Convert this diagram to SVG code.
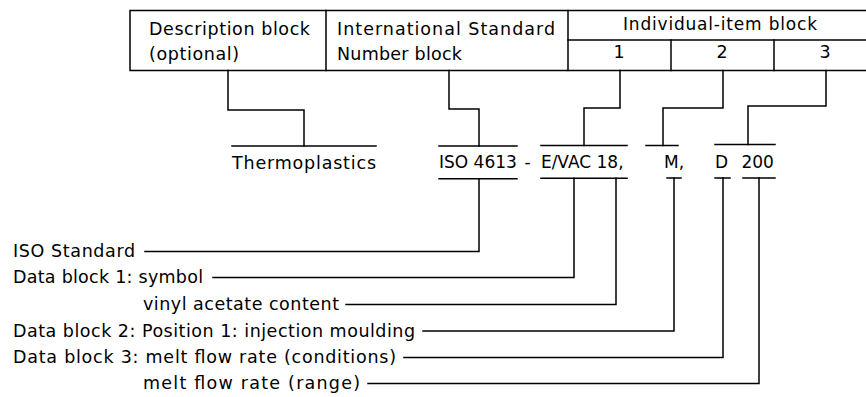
<svg xmlns="http://www.w3.org/2000/svg" width="866" height="397" viewBox="0 0 866 397">
<style>
text{font-family:"DejaVu Sans","Liberation Sans",sans-serif;font-size:17.5px;fill:#000}
.mid{font-size:17px}
.ln{fill:none;stroke:#000;stroke-width:1.5;stroke-linecap:square}
.c{text-anchor:middle}
</style>
<rect width="866" height="397" fill="#fff"/>
<g id="table">
  <g id="desc-block">
    <path class="ln" d="M130,10.5H326V70.5H130Z"/>
    <text x="149" y="35" textLength="161">Description block</text>
    <text x="149" y="60" textLength="90">(optional)</text>
  </g>
  <g id="isn-block">
    <path class="ln" d="M326,10.5H568V70.5H326"/>
    <text x="337" y="35" textLength="218">International Standard</text>
    <text x="337" y="60" textLength="125">Number block</text>
  </g>
  <g id="item-block">
    <path class="ln" d="M568,10.5H866M568,40H866M568,70.5H866"/>
    <text x="623" y="29.5" textLength="194" style="font-size:17px">Individual-item block</text>
  </g>
  <g id="item-1">
    <path class="ln" d="M671,40V70.5"/>
    <text class="c" x="619" y="57.5">1</text>
  </g>
  <g id="item-2">
    <path class="ln" d="M774,40V70.5"/>
    <text class="c" x="722" y="57.5">2</text>
  </g>
  <g id="item-3">
    <text class="c" x="825" y="57.5">3</text>
  </g>
</g>
<g id="designation">
  <g id="thermo">
    <path class="ln" d="M232,146H376"/>
    <text x="232" y="168.5" textLength="144">Thermoplastics</text>
  </g>
  <g id="iso-evac">
    <path class="ln" d="M439,146H517M439,178.7H517M541,145.5H627M541,178.3H627"/>
    <text class="mid" y="167.5"><tspan x="439">ISO 4613</tspan><tspan x="519"> -</tspan><tspan x="535.5"> E/VAC 18,</tspan></text>
  </g>
  <g id="m">
    <path class="ln" d="M646,145.5H678M667,178H681"/>
    <text class="mid" x="664" y="167.5">M,</text>
  </g>
  <g id="d200">
    <path class="ln" d="M715,144.5H775M715,178H730M743,178H775"/>
    <text class="mid" y="167.5"><tspan x="715">D</tspan><tspan x="736"> 200</tspan></text>
  </g>
</g>
<g id="labels">
  <text id="l1" x="13" y="257" textLength="122">ISO Standard</text>
  <text id="l2" x="13" y="283" textLength="190">Data block 1: symbol</text>
  <text id="l3" x="143" y="310" textLength="196">vinyl acetate content</text>
  <text id="l4" x="13" y="336.5" textLength="402">Data block 2: Position 1: injection moulding</text>
  <text id="l5" x="13" y="363" textLength="383">Data block 3: melt flow rate (conditions)</text>
  <text id="l6" x="143" y="389" textLength="217">melt flow rate (range)</text>
</g>
<g id="connectors" class="ln">
  <path class="ln" d="M228,70.5V110H304V146"/>
  <path class="ln" d="M449,70.5V109H479V146"/>
  <path class="ln" d="M620,70.5V108H584V145.5"/>
  <path class="ln" d="M723,70.5V108H663V145.5"/>
  <path class="ln" d="M826,70.5V106H748V144.5"/>
  <path class="ln" d="M479,178.7V251.5H145"/>
  <path class="ln" d="M574,178.3V277.5H213"/>
  <path class="ln" d="M616,178.3V304.5H346"/>
  <path class="ln" d="M674,178V331H423"/>
  <path class="ln" d="M723,178V357.5H404"/>
  <path class="ln" d="M759,178V383.5H368"/>
</g>
</svg>
